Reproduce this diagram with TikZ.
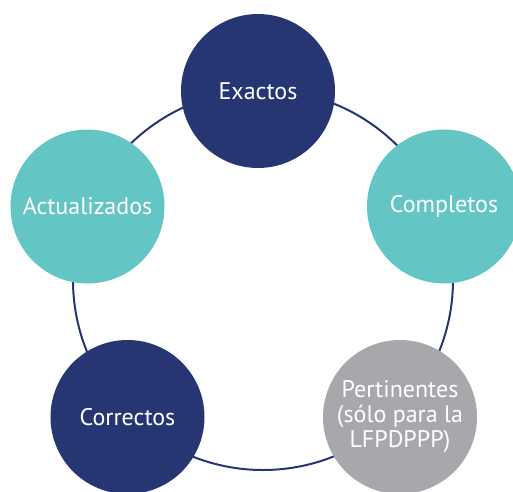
\documentclass[tikz,border=0pt]{standalone}
\usepackage{fontspec}
\setmainfont{PT Sans}
\usepackage{tikz}

\definecolor{azulmarino}{HTML}{263672}
\definecolor{turquesa}{HTML}{64C6C4}
\definecolor{grisclaro}{HTML}{A7A8AB}

\tikzset{
    principio/.style={circle, minimum size=154pt, inner sep=0pt, text=white,
        font=\fontsize{24}{25}\selectfont, align=center}
}

\begin{document}
\begin{tikzpicture}[x=1pt,y=1pt]
        \useasboundingbox (0,0) rectangle (513,491);

        % Ring
        \draw[azulmarino, line width=2pt] (263,211) circle (190pt);

        % Principles
        \node[principio, fill=azulmarino] (exactos) at (258,400) {Exactos};
        \node[principio, fill=turquesa] (actualizados) at (87.5,284.5) {Actualizados};
        \node[principio, fill=turquesa] (completos) at (444,284.5) {Completos};
        \node[principio, fill=azulmarino] (correctos) at (127.5,74) {Correctos};
        \node[principio, fill=grisclaro] (pertinentes) at (400,74) {Pertinentes\\(sólo para la\\LFPDPPP)};
    \end{tikzpicture}
\end{document}
